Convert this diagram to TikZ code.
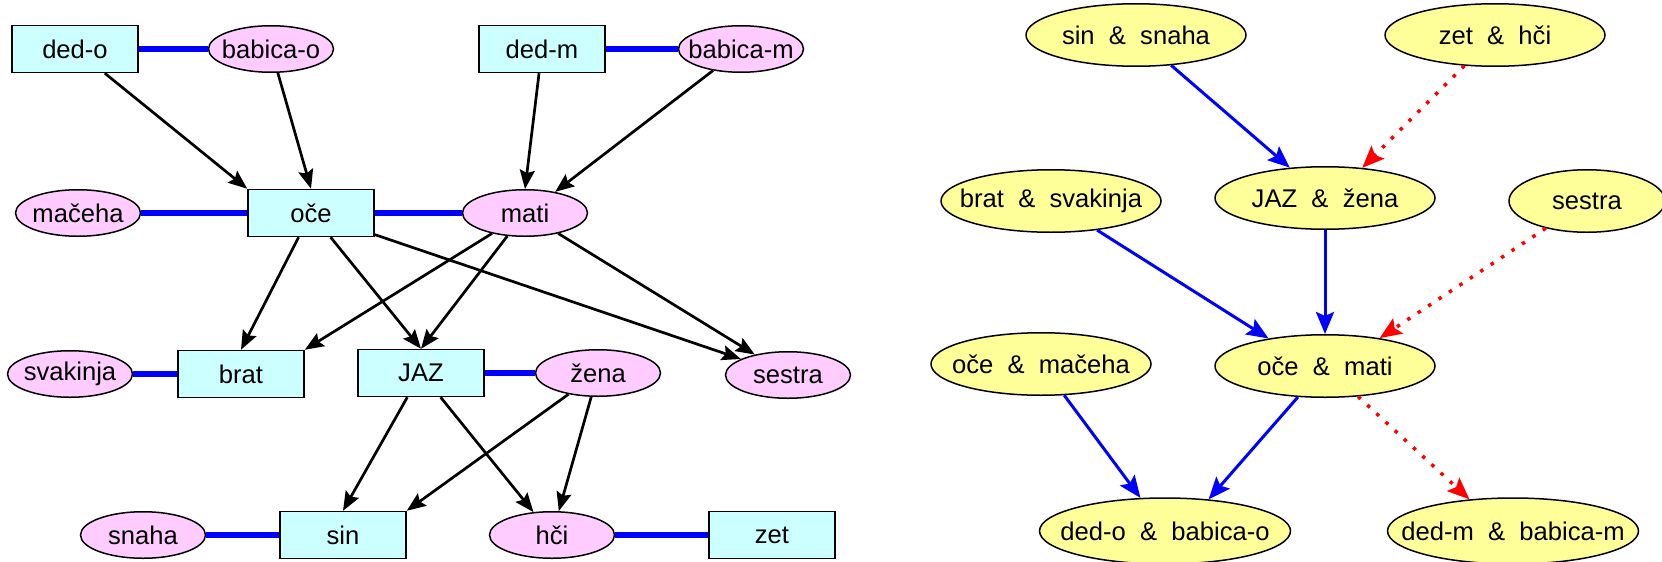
\documentclass[tikz,border=0pt]{standalone}
\usepackage{fontspec}
\setmainfont{Liberation Sans}
\usetikzlibrary{arrows.meta,shapes.geometric}

\definecolor{mancyan}{HTML}{CCFFFF}
\definecolor{womanpink}{HTML}{FFCCFF}
\definecolor{pairyellow}{HTML}{FFFF99}

\begin{document}
\begin{tikzpicture}[x=1pt,y=-1pt,
		>={Stealth[length=19pt,width=15pt,inset=3pt]},
		every node/.style={font=\fontsize{25.6}{30}\selectfont},
		man/.style={draw,line width=1.5pt,fill=mancyan,minimum width=126pt,minimum height=47pt,inner sep=0pt},
		woman/.style={ellipse,draw,line width=1.5pt,fill=womanpink,minimum width=125pt,minimum height=46.5pt,inner xsep=-20pt,inner ysep=0pt},
		pair/.style={ellipse,draw,line width=1.5pt,fill=pairyellow,minimum width=220pt,minimum height=62.5pt,inner xsep=-30pt,inner ysep=0pt},
		child/.style={->,line width=2.7pt},
		couple/.style={line width=6.5pt,blue},
		rel/.style={-{Stealth[length=22pt,width=18pt,inset=4pt]},line width=3pt,blue},
		inlaw/.style={-{Stealth[length=22pt,width=18pt,inset=4pt]},line width=3.5pt,red,dash pattern=on 3.5pt off 9pt}]
	\useasboundingbox (0,0) rectangle (1662,562);

	% family tree
	\node[man] (dedo) at (75,49) {ded-o};
	\node[woman] (babicao) at (271,49) {babica-o};
	\node[man] (dedm) at (542,49) {ded-m};
	\node[woman] (babicam) at (741,49) {babica-m};
	\node[woman] (macheha) at (78,213) {mačeha};
	\node[man] (oce) at (311,213) {oče};
	\node[woman] (mati) at (525,213) {mati};
	\node[woman] (svakinja) at (70,374) {svakinja};
	\node[man] (brat) at (241,374) {brat};
	\node[man] (jaz) at (421,373) {JAZ};
	\node[woman] (zena) at (598,373) {žena};
	\node[woman] (sestra) at (788,375) {sestra};
	\node[woman] (snaha) at (143,535) {snaha};
	\node[man] (sin) at (343,535) {sin};
	\node[woman] (hci) at (552,535) {hči};
	\node[man] (zet) at (772,535) {zet};

	\draw[couple] (dedo) -- (babicao);
	\draw[couple] (dedm) -- (babicam);
	\draw[couple] (macheha) -- (oce);
	\draw[couple] (oce) -- (mati);
	\draw[couple] (svakinja) -- (brat);
	\draw[couple] (jaz) -- (zena);
	\draw[couple] (snaha) -- (sin);
	\draw[couple] (hci) -- (zet);

	\draw[child] (dedo) -- (oce.north west);
	\draw[child] (babicao) -- (oce.north);
	\draw[child] (dedm) -- (mati.north);
	\draw[child] (babicam) -- (mati.35);
	\draw[child] (oce) -- (brat.north);
	\draw[child] (oce) -- (jaz.north);
	\draw[child] (oce) -- (sestra);
	\draw[child] (mati) -- (brat.north east);
	\draw[child] (mati) -- (jaz.north);
	\draw[child] (mati) -- (sestra);
	\draw[child] (jaz) -- (sin.north);
	\draw[child] (jaz) -- (hci);
	\draw[child] (zena) -- (sin.north east);
	\draw[child] (zena) -- (hci);

	% couples graph
	\node[pair] (sinsnaha) at (1136,35) {sin~~\&~~snaha};
	\node[pair] (zethci) at (1495,35) {zet~~\&~~hči};
	\node[pair] (bratsvak) at (1051,201) {brat~~\&~~svakinja};
	\node[pair] (jazzena) at (1325,198) {JAZ~~\&~~žena};
	\node[pair,minimum width=156pt] (sestrapair) at (1587,201) {sestra};
	\node[pair] (ocemacheha) at (1041,364) {oče~~\&~~mačeha};
	\node[pair] (ocemati) at (1325,366) {oče~~\&~~mati};
	\node[pair,minimum width=251pt,minimum height=66pt] (dedobabicao) at (1165,531) {ded-o~~\&~~babica-o};
	\node[pair,minimum width=251pt,minimum height=66pt] (dedmbabicam) at (1513,531) {ded-m~~\&~~babica-m};

	\draw[rel] (sinsnaha) -- (jazzena);
	\draw[inlaw] (zethci) -- (jazzena.39);
	\draw[rel] (bratsvak) -- (ocemati.154);
	\draw[rel] (jazzena) -- (ocemati);
	\draw[inlaw] (sestrapair) -- (ocemati.27);
	\draw[rel] (ocemacheha) -- (dedobabicao);
	\draw[rel] (ocemati) -- (dedobabicao.36);
	\draw[inlaw] (ocemati) -- (dedmbabicam.144);

\end{tikzpicture}
\end{document}
